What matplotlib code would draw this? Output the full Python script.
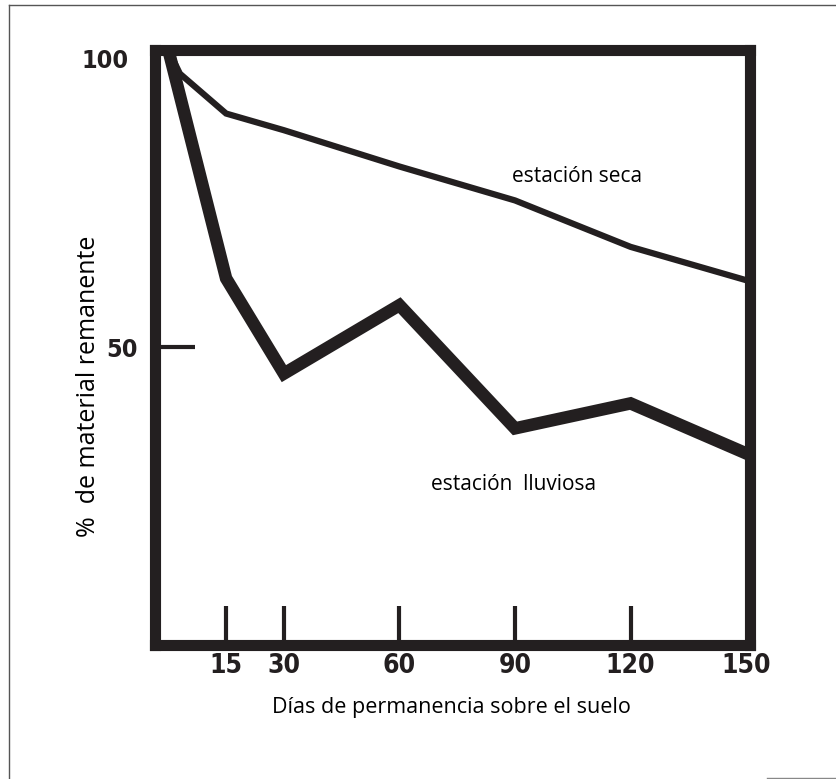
import matplotlib.pyplot as plt
import matplotlib.transforms as mtransforms
from matplotlib.lines import Line2D

# Data
dias_seca = [0, 3, 15, 30, 60, 90, 120, 150]
seca = [100, 96, 89.3, 86.5, 80.4, 74.7, 66.9, 61.3]

dias_lluviosa = [0, 15, 30, 60, 90, 120, 150]
lluviosa = [100, 61.6, 45.6, 57.1, 36.4, 40.6, 32.2]

x_ticks = [15, 30, 60, 90, 120, 150]
y_ticks = [50, 100]

text_font = ['Open Sans', 'DejaVu Sans']

fig = plt.figure(figsize=(8.37, 7.79), dpi=100)
ax = fig.add_axes([0.185, 0.172, 0.711, 0.764])

# Plot the two seasons
ax.plot(dias_seca, seca, color='#231f20', linewidth=4.5, solid_joinstyle='miter')
ax.plot(dias_lluviosa, lluviosa, color='#231f20', linewidth=9, solid_joinstyle='miter')

ax.set_xlim(-3.5, 151)
ax.set_ylim(0, 100)

# Thick box and inward ticks
for side in ax.spines.values():
    side.set_linewidth(8)
    side.set_color('#231f20')

ax.set_xticks(x_ticks)
ax.set_xticklabels([str(t) for t in x_ticks], family='DejaVu Sans', stretch='condensed',
                   fontsize=19, weight='bold', color='#231f20')
ax.set_yticks(y_ticks)
ax.set_yticklabels([str(t) for t in y_ticks], family='DejaVu Sans', stretch='condensed',
                   fontsize=18, weight='bold', color='#231f20')
ax.tick_params(axis='x', direction='in', length=28, width=3, pad=6, color='#231f20')
ax.tick_params(axis='y', direction='in', length=29, width=3, pad=12, color='#231f20')

# no marks where the ticks sit on the box itself
ax.xaxis.get_major_ticks()[-1].tick1line.set_visible(False)
ax.yaxis.get_major_ticks()[-1].tick1line.set_visible(False)

# the "100" sits a little lower and further left in the original
lab100 = ax.get_yticklabels()[-1]
lab100.set_transform(lab100.get_transform()
                     + mtransforms.ScaledTranslation(-0.1, -0.09, fig.dpi_scale_trans))

# Labels
ax.set_xlabel('Días de permanencia sobre el suelo', family=text_font, fontsize=15.5)
ax.xaxis.set_label_coords(0.499, -0.088)
ax.set_ylabel('%  de material remanente', family=text_font, fontsize=18)
ax.yaxis.set_label_coords(-0.09, 0.434)

ax.text(106, 78.8, 'estación seca', family=text_font, fontsize=15, ha='center', va='center')
ax.text(89.6, 27, 'estación  lluviosa', family=text_font, fontsize=15, ha='center', va='center')

# Thin page border of the scan
fig.add_artist(Line2D([9 / 837, 9 / 837], [0, 1 - 5 / 779], color='#555555', linewidth=1))
fig.add_artist(Line2D([9 / 837, 1], [1 - 5 / 779, 1 - 5 / 779], color='#555555', linewidth=1))
fig.add_artist(Line2D([767 / 837, 1], [1 / 779, 1 / 779], color='#888888', linewidth=1))

plt.savefig('out.png', dpi=100)
